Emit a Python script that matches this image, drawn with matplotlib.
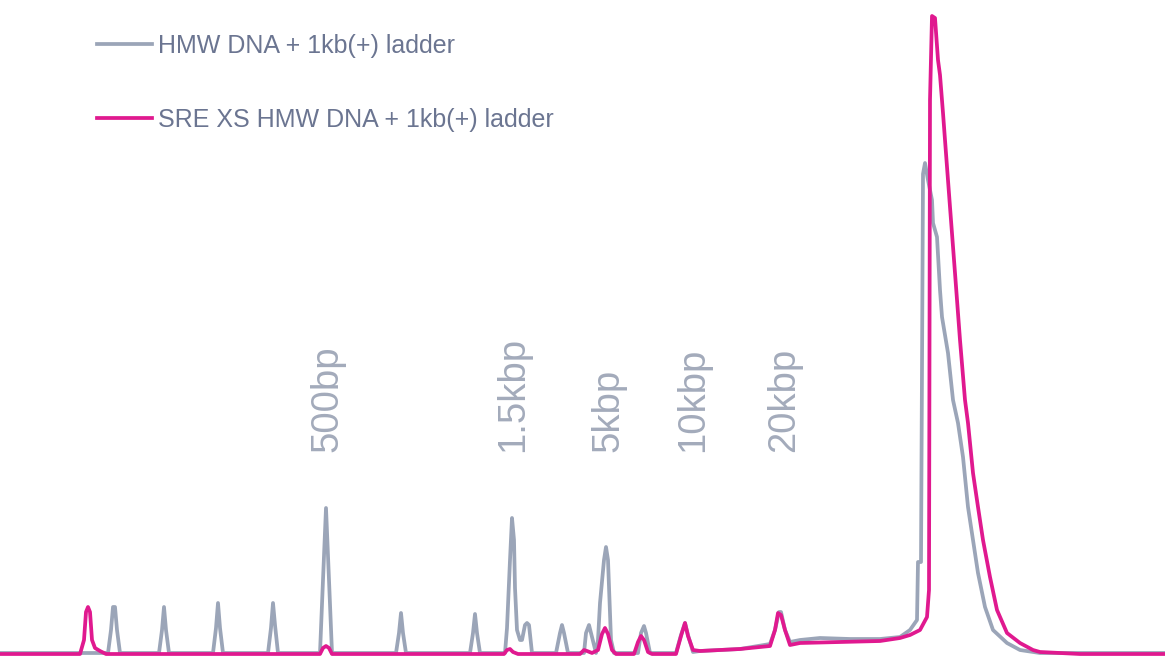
import numpy as np
import matplotlib.pyplot as plt

# electropherogram traces (position vs. fluorescence signal)
grey_x = [0, 108, 111, 113, 115, 117, 120,
          159, 162, 164, 166, 169,
          213, 216, 218, 220, 223,
          268, 271, 273, 275, 278,
          320, 323, 326, 329, 332,
          396, 399, 401, 403, 406,
          470, 473, 475, 477, 480,
          505, 507, 510, 512, 514, 515, 517, 520, 522, 525, 527, 529, 532,
          556, 560, 562, 564, 568,
          584, 586, 589, 591, 596,
          598, 600, 604, 606, 608, 611, 614,
          638, 641, 644, 646, 650,
          676, 681, 685, 688, 693,
          700, 740, 770, 775, 779, 781, 785, 790, 800, 820, 850, 880, 900,
          910, 917, 918, 921, 923, 925, 928, 932, 933, 937, 940, 942, 948,
          953, 958, 963, 968, 973, 978, 985, 993, 1007, 1020, 1040, 1080, 1165]
grey_y = [1, 1, 24, 47, 47, 24, 1,
          1, 24, 47, 24, 1,
          1, 26, 51, 26, 1,
          1, 26, 51, 29, 1,
          1, 74, 146, 74, 1,
          1, 21, 41, 21, 1,
          1, 21, 40, 21, 1,
          1, 26, 94, 136, 114, 66, 24, 14, 14, 29, 31, 29, 1,
          1, 21, 29, 21, 1,
          1, 21, 29, 21, 1,
          14, 51, 94, 107, 94, 14, 1,
          1, 21, 28, 21, 1,
          1, 19, 31, 19, 2,
          3, 5, 10, 24, 42, 42, 24, 12, 14, 16, 15, 15, 17,
          24, 34, 92, 92, 480, 491, 474, 454, 431, 417, 364, 337, 301,
          254, 231, 197, 147, 114, 81, 47, 24, 11, 4, 1, 1, 1]

magenta_x = [0, 80, 84, 86, 88, 90, 92, 95, 100, 106,
             320, 323, 326, 329, 332,
             504, 507, 510, 513, 518,
             580, 584, 587, 592, 598, 602, 605, 608, 612, 616,
             634, 638, 641, 644, 648, 652,
             676, 681, 685, 688, 693,
             700, 740, 770, 775, 778, 781, 785, 790, 800, 840, 880, 900,
             910, 920, 927, 929, 930, 932, 935, 938, 940, 943, 945, 950, 955,
             960, 965, 968, 973, 978, 983, 990, 997, 1007, 1020, 1033, 1040,
             1080, 1165]
magenta_y = [0, 0, 14, 42, 47, 42, 14, 6, 3, 0,
             0, 6, 8, 6, 0,
             0, 4, 5, 2, 0,
             0, 4, 3, 1, 4, 20, 26, 20, 4, 0,
             0, 12, 18, 14, 2, 0,
             0, 18, 31, 18, 4,
             3, 5, 8, 24, 41, 39, 24, 9, 11, 12, 13, 16,
             19, 24, 37, 64, 554, 638, 636, 594, 579, 541, 514, 447, 381,
             314, 254, 231, 181, 147, 114, 77, 44, 21, 11, 4, 2,
             0, 0]

# ladder size labels
ladder_labels = ["500bp", "1.5kbp", "5kbp", "10kbp", "20kbp"]
ladder_pos = [327, 513, 608, 693, 784]

legend_labels = ["HMW DNA + 1kb(+) ladder", "SRE XS HMW DNA + 1kb(+) ladder"]

plt.rcParams['font.family'] = ['Liberation Sans', 'DejaVu Sans']

fig = plt.figure(figsize=(11.65, 6.56), dpi=100)
ax = fig.add_axes([0, 0, 1, 1])

ax.plot(grey_x, grey_y, color="#9ba5b8", lw=2.7, solid_joinstyle="round",
        label=legend_labels[0])
ax.plot(magenta_x, magenta_y, color="#e0198f", lw=2.7, solid_joinstyle="round",
        label=legend_labels[1])

for lab, pos in zip(ladder_labels, ladder_pos):
    ax.text(pos, 202, lab, rotation=90, ha="center", va="bottom",
            fontsize=27.5, color="#a3abbb")

ax.legend(loc="upper left", bbox_to_anchor=(0.083, 0.948), frameon=False,
          fontsize=18, labelcolor="#6b7591", handlelength=2.2,
          handletextpad=0.25, labelspacing=2.0, borderpad=0, borderaxespad=0)

ax.set_xlim(0, 1165)
ax.set_ylim(-2, 654)
ax.axis("off")

fig.savefig("out.png", dpi=100)
